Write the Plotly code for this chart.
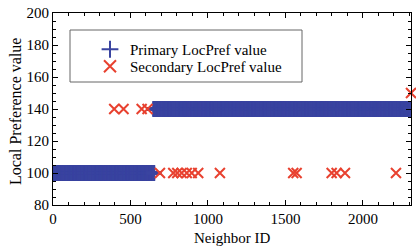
import plotly.graph_objects as go

# Primary LocPref value: step segments (start ID, end ID, value)
primary_start = [1, 651]
primary_end = [650, 2310]
primary_value = [100, 140]

# Secondary LocPref values
secondary_x = [395, 455, 572, 610,
               690, 776, 802, 830, 863, 895, 937, 1077,
               1550, 1572, 1798, 1830, 1884, 2213, 2310]
secondary_y = [140, 140, 140, 140,
               100, 100, 100, 100, 100, 100, 100, 100,
               100, 100, 100, 100, 100, 100, 150]

px_ = []
py_ = []
for s, e, v in zip(primary_start, primary_end, primary_value):
    for i in range(s, e + 1):
        px_.append(i)
        py_.append(v)

BLUE = "#3a44a0"
RED = "#e8412f"
FONT = "Liberation Serif"

L, R, T, B = 53, 411, 13, 205
W, H = 416, 247
PW, PH = R - L, B - T

fig = go.Figure()
fig.add_trace(go.Scatter(
    x=px_, y=py_, mode="markers", name="Primary LocPref value",
    marker=dict(symbol="cross-thin", size=11, color=BLUE,
                line=dict(color=BLUE, width=3)),
    cliponaxis=True, legend="legend",
))
fig.add_trace(go.Scatter(
    x=secondary_x, y=secondary_y, mode="markers", name="Secondary LocPref value",
    marker=dict(symbol="x-thin", size=10, color=RED,
                line=dict(color=RED, width=2)),
    cliponaxis=False, legend="legend2",
))

axis_common = dict(
    showline=True, linecolor="black", linewidth=1, mirror="ticks",
    ticks="inside", ticklen=5, tickcolor="black", showgrid=False,
    zeroline=False, automargin=False,
    tickfont=dict(family=FONT, size=15, color="black"),
)
fig.update_xaxes(range=[0, 2310], tickvals=[0, 500, 1000, 1500, 2000],
                 minor=dict(dtick=100, ticks="inside", ticklen=3, tickcolor="black"),
                 **axis_common)
fig.update_yaxes(range=[80, 200], tickvals=[80, 100, 120, 140, 160, 180, 200],
                 minor=dict(dtick=5, ticks="inside", ticklen=3, tickcolor="black"),
                 **axis_common)

fig.add_annotation(text="Neighbor ID", xref="paper", yref="paper",
                   x=0.5, y=-(238 - B) / PH, xanchor="center", yanchor="middle",
                   showarrow=False, font=dict(family=FONT, size=15, color="black"))
fig.add_annotation(text="Local Preference value", xref="paper", yref="paper",
                   x=-(L - 15) / PW, y=(B - 112) / PH, xanchor="center", yanchor="middle",
                   textangle=-90, showarrow=False,
                   font=dict(family=FONT, size=16, color="black"))

fig.add_shape(type="rect", xref="paper", yref="paper",
              x0=(70 - L) / PW, x1=(302 - L) / PW,
              y0=(B - 82) / PH, y1=(B - 30) / PH,
              line=dict(color="#666666", width=1), fillcolor="rgba(0,0,0,0)")

legend_common = dict(xanchor="left", yanchor="top",
                     bgcolor="rgba(0,0,0,0)", borderwidth=0,
                     font=dict(family=FONT, size=15, color="black"),
                     itemsizing="constant")

fig.update_layout(
    width=W, height=H,
    margin=dict(l=L, r=W - R, t=T, b=H - B),
    paper_bgcolor="white", plot_bgcolor="white",
    showlegend=True,
    legend=dict(x=(90 - L) / PW, y=(B - 33) / PH, **legend_common),
    legend2=dict(x=(90 - L) / PW, y=(B - 50) / PH, **legend_common),
    font=dict(family=FONT),
)

fig.write_html("out.html", config={"displayModeBar": False},
               post_script="document.body.style.margin='0';document.body.style.overflow='hidden';")
